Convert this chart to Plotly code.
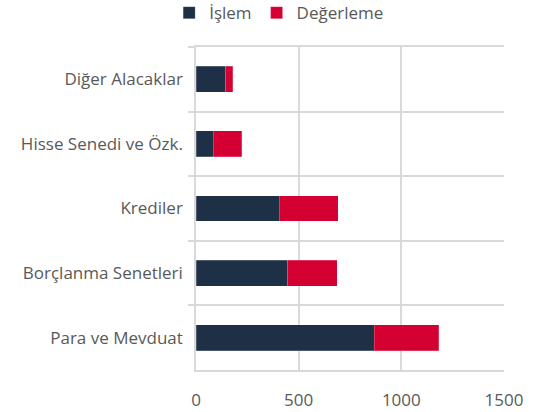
import plotly.graph_objects as go

categories = ["Diğer Alacaklar", "Hisse Senedi ve Özk.", "Krediler", "Borçlanma Senetleri", "Para ve Mevduat"]
islem = [144, 83, 406, 447, 869]
degerleme = [36, 140, 287, 242, 312]
x_ticks = [0, 500, 1000, 1500]

font_fam = "Open Sans, Noto Sans, sans-serif"
grid = "#d9d9d9"
txt = "#595959"

fig = go.Figure()
fig.add_trace(go.Bar(y=categories, x=islem, name="İşlem", orientation="h",
                     marker=dict(color="#1e3045", line=dict(color="rgba(255,255,255,0.35)", width=0.6))))
fig.add_trace(go.Bar(y=categories, x=degerleme, name="Değerleme", orientation="h",
                     marker=dict(color="#d50032", line=dict(color="rgba(255,255,255,0.35)", width=0.6))))

fig.update_layout(
    barmode="stack",
    bargap=0.6,
    width=533, height=412,
    margin=dict(l=196, r=29, t=47, b=42, autoexpand=False),
    paper_bgcolor="white", plot_bgcolor="white",
    font=dict(family=font_fam, size=17, color=txt),
    legend=dict(orientation="h", traceorder="normal", x=0.27, xanchor="center",
                y=1.105, yanchor="middle",
                font=dict(size=17, color=txt), itemwidth=30, tracegroupgap=0),
    xaxis=dict(range=[0, 1500], tickvals=x_ticks, showgrid=True, gridcolor=grid, gridwidth=1.5,
               zeroline=False, showline=True, linecolor=grid, linewidth=1.5, mirror=True,
               ticks="", ticklabelstandoff=14, tickfont=dict(size=17, color=txt)),
    yaxis=dict(categoryorder="array", categoryarray=categories, autorange="reversed",
               tickson="boundaries", showgrid=True, gridcolor=grid, gridwidth=1.5,
               ticks="outside", ticklen=6, tickcolor=grid, tickwidth=1.5,
               showline=True, linecolor=grid, linewidth=1.5, zeroline=False,
               ticklabelstandoff=8, tickfont=dict(size=17, color=txt)),
)

fig.write_html("out.html", config={"displayModeBar": False},
               post_script="document.body.style.margin='0';")
